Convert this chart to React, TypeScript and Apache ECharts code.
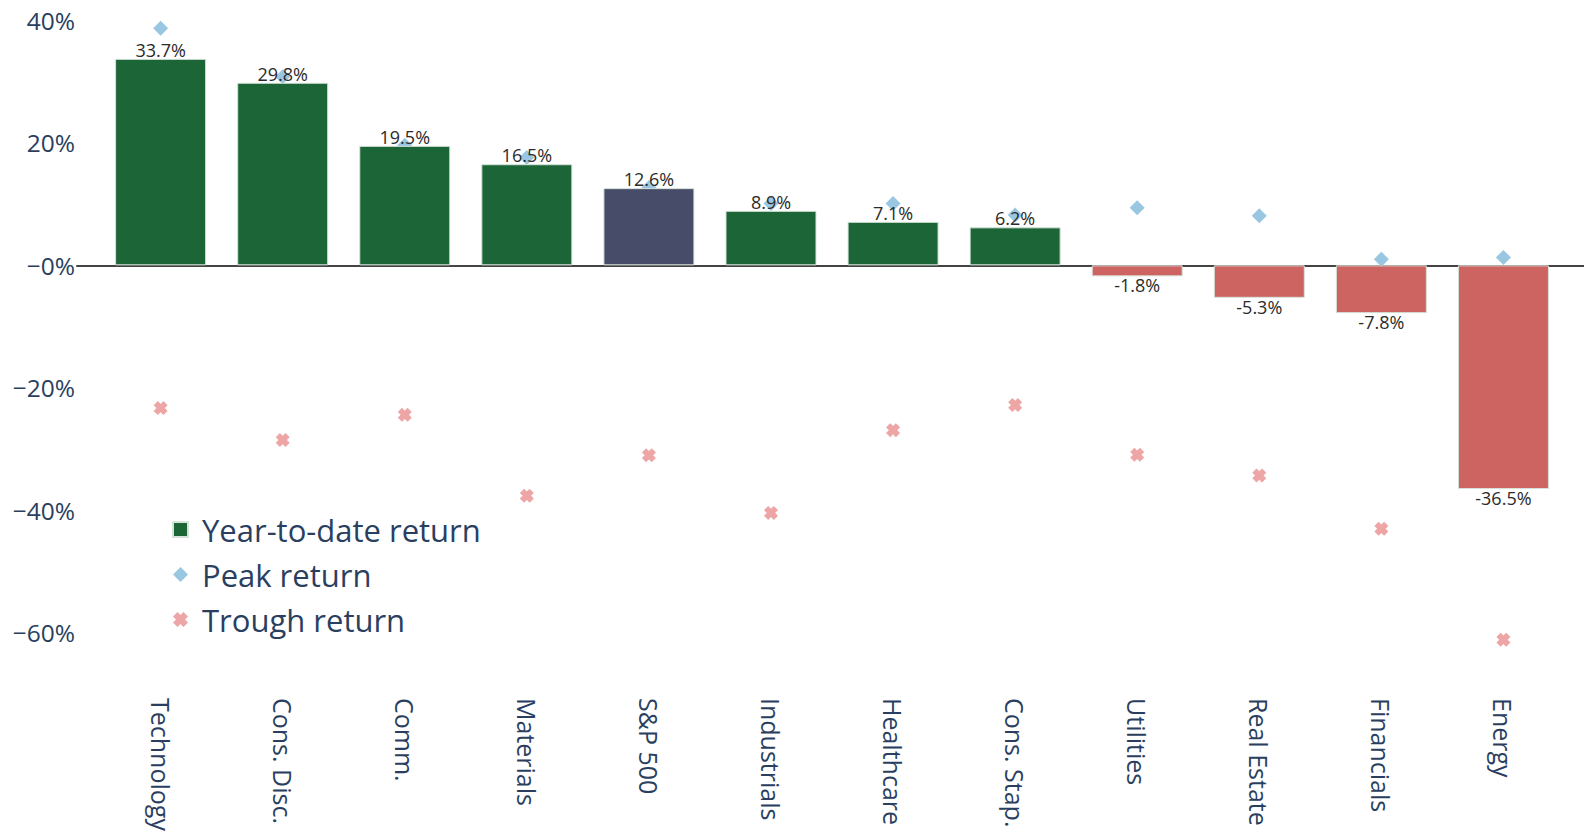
import React, { useEffect, useRef } from "react";
import * as echarts from "echarts";

const categories = [
  "Technology",
  "Cons. Disc.",
  "Comm.",
  "Materials",
  "S&P 500",
  "Industrials",
  "Healthcare",
  "Cons. Stap.",
  "Utilities",
  "Real Estate",
  "Financials",
  "Energy",
];
const ytdReturn = [33.7, 29.8, 19.5, 16.5, 12.6, 8.9, 7.1, 6.2, -1.8, -5.3, -7.8, -36.5];
const peakReturn = [38.7, 30.8, 19.6, 17.6, 12.7, 10.1, 10.1, 8.2, 9.4, 8.1, 1.0, 1.3];
const troughReturn = [-23.3, -28.5, -24.4, -37.6, -31.0, -40.4, -26.9, -22.8, -30.9, -34.3, -43.0, -61.1];
const yTicks = [-60, -40, -20, 0, 20, 40];
const benchmark = "S&P 500";
const seriesNames = ["Year-to-date return", "Peak return", "Trough return"];

const GREEN = "#1b6536";
const NAVY = "#474c69";
const RED = "#cd6461";
const PEAK = "#7fb9da";
const TROUGH = "#e88f8f";
const AXIS_TEXT = "#2a3f5f";
const FONT = "Open Sans";
const X_SYMBOL = "path://M0,3L3,0L5,2L7,0L10,3L8,5L10,7L7,10L5,8L3,10L0,7L2,5Z";

function fmtPct(v: number): string {
  const s = Math.abs(v).toFixed(0) + "%";
  return v <= 0 ? "\u2212" + s : s;
}

export default function App() {
  const ref = useRef<HTMLDivElement | null>(null);

  useEffect(() => {
    if (!ref.current) return;
    const chart = echarts.init(ref.current, undefined, { renderer: "svg" });

    const barData = ytdReturn.map((v, i) => ({
      value: [i, v],
      itemStyle: {
        color: categories[i] === benchmark ? NAVY : v < 0 ? RED : GREEN,
      },
      label: { position: v < 0 ? "bottom" : "top" },
    }));

    const xRange = { min: -0.685, max: 11.66 };

    chart.setOption({
      animation: false,
      backgroundColor: "#ffffff",
      textStyle: { fontFamily: FONT },
      grid: { left: 77, right: 0, top: 8, bottom: 153, containLabel: false },
      legend: {
        orient: "vertical",
        left: 167,
        top: 509,
        itemWidth: 15,
        itemHeight: 15,
        itemGap: 14,
        selectedMode: false,
        textStyle: {
          fontSize: 31,
          color: AXIS_TEXT,
          fontFamily: FONT,
          padding: [0, 0, 0, 9],
        },
        data: [
          { name: seriesNames[0], icon: "rect" },
          { name: seriesNames[1], icon: "diamond" },
          { name: seriesNames[2], icon: X_SYMBOL },
        ],
      },
      xAxis: [
        {
          type: "value",
          position: "top",
          ...xRange,
          axisLine: { show: true, onZero: true, lineStyle: { color: "#444444", width: 2 } },
          axisTick: { show: false },
          axisLabel: { show: false },
          splitLine: { show: false },
        },
        {
          type: "value",
          position: "bottom",
          ...xRange,
          axisLine: { show: false, onZero: false },
          axisTick: { show: false },
          splitLine: { show: false },
          axisLabel: {
            show: true,
            customValues: categories.map((_, i) => i),
            formatter: (v: number) => categories[Math.round(v)] ?? "",
            rotate: -90,
            margin: 16,
            fontSize: 25,
            color: AXIS_TEXT,
            fontFamily: FONT,
            padding: [13, 0, 0, 0],
          },
        },
      ],
      yAxis: {
        type: "value",
        min: -68,
        max: 42,
        axisLine: { show: false },
        axisTick: { show: false },
        splitLine: { show: false },
        axisLabel: {
          customValues: yTicks,
          formatter: (v: number) => fmtPct(v),
          fontSize: 24.5,
          color: AXIS_TEXT,
          fontFamily: FONT,
          margin: 2,
        },
      },
      series: [
        {
          name: seriesNames[0],
          type: "bar",
          xAxisIndex: 1,
          barWidth: 91,
          itemStyle: { color: GREEN, borderColor: "#d6e3da", borderWidth: 1 },
          label: {
            show: true,
            distance: 0,
            fontSize: 18,
            color: "#2b2b2b",
            fontFamily: FONT,
            formatter: (p: any) => p.value[1].toFixed(1) + "%",
          },
          data: barData,
          z: 2,
        },
        {
          name: seriesNames[1],
          type: "scatter",
          xAxisIndex: 1,
          symbol: "diamond",
          symbolSize: 15,
          itemStyle: { color: PEAK },
          data: peakReturn.map((v, i) => [i, v]),
          z: 1,
        },
        {
          name: seriesNames[2],
          type: "scatter",
          xAxisIndex: 1,
          symbol: X_SYMBOL,
          symbolSize: 14,
          itemStyle: { color: TROUGH },
          data: troughReturn.map((v, i) => [i, v]),
          z: 3,
        },
      ],
    });

    return () => {
      chart.dispose();
    };
  }, []);

  return (
    <div
      ref={ref}
      style={{ position: "fixed", left: 0, top: 0, width: 1584, height: 835, background: "#fff" }}
    />
  );
}
